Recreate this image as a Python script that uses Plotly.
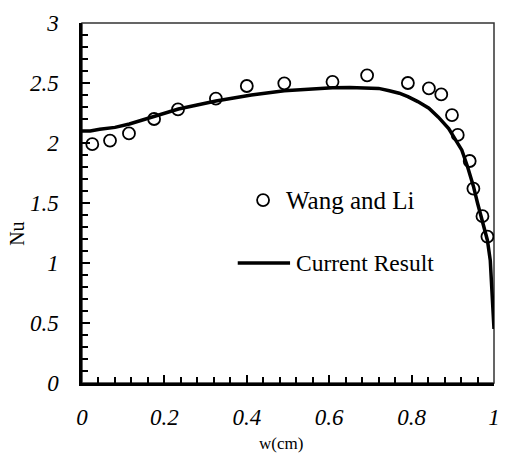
import plotly.graph_objects as go

# Experimental data (Wang and Li)
exp_w = [0.025, 0.068, 0.114, 0.175, 0.233, 0.325, 0.400, 0.491, 0.608, 0.692,
         0.791, 0.842, 0.872, 0.898, 0.912, 0.941, 0.950, 0.972, 0.984]
exp_nu = [1.99, 2.02, 2.08, 2.20, 2.28, 2.37, 2.475, 2.497, 2.51, 2.564,
          2.50, 2.455, 2.405, 2.233, 2.067, 1.85, 1.62, 1.39, 1.22]

# Current result curve
cur_w = [0, 0.02, 0.043, 0.08, 0.115, 0.175, 0.234, 0.325, 0.411, 0.491, 0.55,
         0.608, 0.65, 0.692, 0.72, 0.746, 0.77, 0.791, 0.815, 0.842, 0.865, 0.890,
         0.905, 0.922, 0.936, 0.950, 0.960, 0.970, 0.978, 0.984, 0.991, 0.996, 1.0]
cur_nu = [2.10, 2.10, 2.114, 2.13, 2.158, 2.22, 2.283, 2.35, 2.40, 2.436, 2.45,
          2.461, 2.463, 2.461, 2.455, 2.436, 2.415, 2.386, 2.345, 2.29, 2.215, 2.12,
          2.04, 1.94, 1.80, 1.64, 1.50, 1.36, 1.27, 1.19, 1.02, 0.75, 0.45]

x_ticks = [0, 0.2, 0.4, 0.6, 0.8, 1]
x_labels = ["0", "0.2", "0.4", "0.6", "0.8", "1"]
y_ticks = [0, 0.5, 1, 1.5, 2, 2.5, 3]
y_labels = ["0", "0.5", "1", "1.5", "2", "2.5", "3"]

SERIF = "Liberation Serif"

fig = go.Figure()
fig.add_trace(go.Scatter(x=cur_w, y=cur_nu, mode="lines",
                         line=dict(color="black", width=3.5),
                         name="Current Result", showlegend=False))
fig.add_trace(go.Scatter(x=exp_w, y=exp_nu, mode="markers",
                         marker=dict(symbol="circle-open", size=12, color="black",
                                     line=dict(width=1.8, color="black")),
                         name="Wang and Li", showlegend=False))

axis_common = dict(showgrid=False, zeroline=False, showline=True, linecolor="black",
                   linewidth=2.5, ticks="inside", ticklen=8, tickwidth=2,
                   tickcolor="black",
                   tickfont=dict(family=SERIF, size=23, color="black", style="italic"))

fig.update_xaxes(range=[0, 1], tickvals=x_ticks, ticktext=x_labels,
                 minor=dict(dtick=0.04, ticks="inside", ticklen=6, tickwidth=1.5,
                            tickcolor="black"),
                 ticklabelstandoff=12, **axis_common)
fig.update_yaxes(range=[0, 3], tickvals=y_ticks, ticktext=y_labels,
                 minor=dict(dtick=0.1, ticks="inside", ticklen=6, tickwidth=1.5,
                            tickcolor="black"),
                 ticklabelstandoff=16, **axis_common)

# thin frame (top/right)
fig.add_shape(type="rect", xref="paper", yref="paper", x0=0, y0=0, x1=1, y1=1,
              line=dict(color="#333333", width=1.5), layer="below")

# manual legend
fig.add_shape(type="circle", xref="paper", yref="paper", xsizemode="pixel",
              ysizemode="pixel", xanchor=0.4395, yanchor=0.508,
              x0=-6, x1=6, y0=-6, y1=6, line=dict(color="black", width=1.8))
fig.add_annotation(x=0.4904, y=0.508, xref="paper", yref="paper", text="Wang and Li",
                   showarrow=False, xanchor="left", yanchor="middle",
                   font=dict(family=SERIF, size=25, color="black"))
fig.add_shape(type="line", xref="paper", yref="paper", x0=0.378, x1=0.505,
              y0=0.333, y1=0.333, line=dict(color="black", width=3.5))
fig.add_annotation(x=0.514, y=0.333, xref="paper", yref="paper", text="Current Result",
                   showarrow=False, xanchor="left", yanchor="middle",
                   font=dict(family=SERIF, size=23.5, color="black"))

# axis titles
fig.add_annotation(x=-0.158, y=0.414, xref="paper", yref="paper", text="Nu",
                   showarrow=False, textangle=-90, xanchor="center", yanchor="middle",
                   font=dict(family=SERIF, size=20, color="black"))
fig.add_annotation(x=0.483, y=-0.167, xref="paper", yref="paper", text="w(cm)",
                   showarrow=False, xanchor="center", yanchor="middle",
                   font=dict(family=SERIF, size=17, color="black"))

fig.update_layout(width=508, height=460, margin=dict(l=82, r=8, t=23, b=77),
                  plot_bgcolor="white", paper_bgcolor="white")

fig.write_html("out.html")
